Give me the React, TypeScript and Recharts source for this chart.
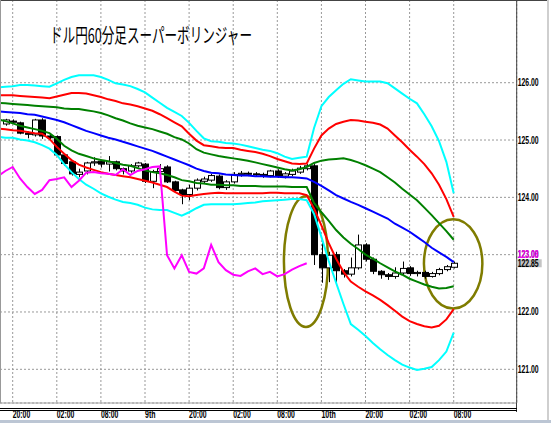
import {
  Bar,
  CartesianGrid,
  ComposedChart,
  Line,
  ReferenceArea,
  ReferenceDot,
  XAxis,
  YAxis,
} from "recharts"

// USD/JPY hourly candles with super-bollinger bands (±1σ, ±2σ, ±3σ around
// the mean) and the lagging close line. Band/lagging arrays start one bar
// before the first candle (bar -1) so the lines run into the left edge.

const TITLE = "ドル円60分足スーパーボリンジャー"

const X_TICKS = [1, 7, 13, 19, 25, 31, 37, 43, 49, 55, 61]
const X_LABELS = ["20:00", "02:00", "08:00", "9th", "20:00", "02:00", "08:00", "10th", "20:00", "02:00", "08:00"]
const Y_TICKS = [121, 122, 123, 124, 125, 126]

const LAST_CLOSE = 122.85
const LAGGING_TAG = 123.08
// the lagging tag is printed over this scale label
const LAGGING_TAG_ROW = 123

// bars 0..61
const opens = [
  125.28, 125.33, 125.3, 125.12, 125.09, 125.35, 125.07, 125.06, 124.74, 124.62,
  124.4, 124.46, 124.6, 124.63, 124.58, 124.62, 124.5, 124.46, 124.55, 124.58,
  124.28, 124.45, 124.53, 124.27, 124.13, 124.05, 124.16, 124.28, 124.3, 124.37,
  124.17, 124.27, 124.4, 124.42, 124.41, 124.4, 124.38, 124.46, 124.37, 124.4,
  124.44, 124.5, 124.55, 123.0, 122.77, 123.0, 122.72, 122.66, 122.77, 123.17,
  122.92, 122.71, 122.65, 122.62, 122.68, 122.77, 122.67, 122.69, 122.62, 122.67,
  122.74, 122.78,
]
const highs = [
  125.37, 125.36, 125.32, 125.15, 125.37, 125.38, 125.1, 125.08, 124.76, 124.65,
  124.5, 124.62, 124.7, 124.66, 124.72, 124.64, 124.52, 124.58, 124.62, 124.6,
  124.48, 124.58, 124.56, 124.29, 124.15, 124.22, 124.33, 124.36, 124.41, 124.4,
  124.3, 124.44, 124.46, 124.45, 124.44, 124.43, 124.48, 124.49, 124.44, 124.5,
  124.55, 124.58, 124.58, 123.2, 123.05, 123.05, 122.75, 122.95, 123.35, 123.2,
  122.95, 122.73, 122.68, 122.78, 122.88, 122.8, 122.72, 122.72, 122.7, 122.77,
  122.82, 122.88,
]
const lows = [
  125.25, 125.28, 125.1, 125.03, 125.06, 125.02, 125.0, 124.72, 124.55, 124.38,
  124.35, 124.4, 124.55, 124.52, 124.45, 124.47, 124.4, 124.43, 124.52, 124.25,
  124.16, 124.42, 124.25, 124.1, 123.88, 123.95, 124.12, 124.25, 124.27, 124.14,
  124.13, 124.24, 124.36, 124.37, 124.36, 124.34, 124.35, 124.34, 124.33, 124.37,
  124.41, 124.47, 122.82, 122.51, 122.52, 122.5, 122.6, 122.62, 122.74, 122.88,
  122.66, 122.58, 122.56, 122.58, 122.64, 122.63, 122.62, 122.58, 122.6, 122.64,
  122.71, 122.76,
]
const closes = [
  125.35, 125.31, 125.12, 125.1, 125.35, 125.07, 125.04, 124.74, 124.59, 124.41,
  124.44, 124.6, 124.62, 124.58, 124.62, 124.5, 124.46, 124.55, 124.6, 124.28,
  124.45, 124.5, 124.27, 124.12, 124.05, 124.16, 124.3, 124.32, 124.38, 124.17,
  124.27, 124.4, 124.42, 124.41, 124.4, 124.38, 124.46, 124.37, 124.41, 124.46,
  124.51, 124.55, 123.0, 122.77, 122.99, 122.72, 122.66, 122.77, 123.17, 122.92,
  122.71, 122.65, 122.62, 122.68, 122.76, 122.67, 122.69, 122.62, 122.67, 122.74,
  122.79, 122.85,
]

// bars -1..61
const upper3 = [
  125.92,
  125.93, 125.94, 125.96, 125.96, 125.95, 125.94, 125.93, 125.99, 126.05, 126.1,
  126.13, 126.13, 126.13, 126.1, 126.05, 125.99, 125.97, 125.94, 125.89, 125.83,
  125.74, 125.65, 125.56, 125.49, 125.42, 125.3, 125.16, 125.03, 124.98, 124.97,
  124.95, 124.94, 124.92, 124.89, 124.86, 124.83, 124.81, 124.77, 124.71, 124.67,
  124.69, 124.71, 125.21, 125.59, 125.75, 125.87, 125.98, 126.06, 126.04, 126.02,
  126.02, 126.02, 125.99, 125.9, 125.81, 125.72, 125.64, 125.45, 125.24, 124.98,
  124.62, 124.07,
]
const upper2 = [
  125.78,
  125.78, 125.78, 125.77, 125.76, 125.75, 125.74, 125.73, 125.76, 125.79, 125.82,
  125.82, 125.81, 125.78, 125.75, 125.71, 125.68, 125.64, 125.62, 125.59, 125.55,
  125.51, 125.45, 125.38, 125.31, 125.24, 125.11, 124.99, 124.91, 124.89, 124.87,
  124.86, 124.86, 124.83, 124.81, 124.79, 124.76, 124.72, 124.67, 124.63, 124.59,
  124.58, 124.59, 124.85, 125.08, 125.2, 125.28, 125.32, 125.35, 125.34, 125.32,
  125.3, 125.27, 125.2, 125.08, 124.96, 124.83, 124.71, 124.58, 124.42, 124.22,
  123.97, 123.66,
]
const upper1 = [
  125.65,
  125.64, 125.63, 125.62, 125.61, 125.6, 125.59, 125.58, 125.57, 125.55, 125.54,
  125.54, 125.52, 125.5, 125.47, 125.43, 125.38, 125.34, 125.29, 125.25, 125.22,
  125.19, 125.15, 125.11, 125.05, 125.01, 124.94, 124.84, 124.78, 124.75, 124.72,
  124.7, 124.68, 124.66, 124.64, 124.61, 124.58, 124.55, 124.52, 124.49, 124.47,
  124.49, 124.53, 124.6, 124.64, 124.66, 124.67, 124.68, 124.65, 124.61, 124.56,
  124.5, 124.44, 124.35, 124.26, 124.15, 124.05, 123.95, 123.82, 123.69, 123.55,
  123.41, 123.26,
]
const middle = [
  125.5,
  125.49, 125.48, 125.47, 125.45, 125.44, 125.41, 125.38, 125.35, 125.31, 125.26,
  125.21, 125.16, 125.12, 125.08, 125.04, 125.01, 124.97, 124.93, 124.89, 124.85,
  124.81, 124.76, 124.71, 124.66, 124.61, 124.56, 124.5, 124.46, 124.43, 124.42,
  124.4, 124.39, 124.38, 124.38, 124.37, 124.37, 124.36, 124.36, 124.35, 124.35,
  124.34, 124.33, 124.27, 124.2, 124.12, 124.04, 123.98, 123.92, 123.87, 123.81,
  123.75, 123.69, 123.63, 123.54, 123.47, 123.4, 123.31, 123.22, 123.12, 123.04,
  122.96, 122.87,
]
const lower1 = [
  125.36,
  125.33, 125.29, 125.25, 125.22, 125.19, 125.16, 125.12, 125.02, 124.9, 124.82,
  124.76, 124.72, 124.68, 124.65, 124.63, 124.6, 124.57, 124.55, 124.51, 124.47,
  124.44, 124.42, 124.39, 124.35, 124.3, 124.28, 124.25, 124.24, 124.22, 124.22,
  124.21, 124.21, 124.2, 124.2, 124.2, 124.19, 124.19, 124.19, 124.19, 124.18,
  124.18, 124.18, 123.9, 123.74, 123.59, 123.43, 123.3, 123.19, 123.1, 123.0,
  122.93, 122.85, 122.78, 122.71, 122.65, 122.58, 122.53, 122.48, 122.44, 122.41,
  122.42, 122.45,
]
const lower2 = [
  125.2,
  125.19, 125.17, 125.16, 125.14, 125.12, 125.11, 125.02, 124.88, 124.76, 124.65,
  124.57, 124.52, 124.48, 124.44, 124.41, 124.39, 124.37, 124.35, 124.32, 124.29,
  124.26, 124.22, 124.18, 124.1, 124.03, 124.02, 124.04, 124.06, 124.07, 124.08,
  124.07, 124.07, 124.07, 124.07, 124.07, 124.07, 124.08, 124.08, 124.07, 124.07,
  124.07, 124.04, 123.8, 123.51, 123.2, 122.93, 122.7, 122.53, 122.44, 122.36,
  122.29, 122.21, 122.12, 122.02, 121.92, 121.84, 121.79, 121.75, 121.73, 121.76,
  121.87, 122.05,
]
const lower3 = [
  125.06,
  125.04, 125.04, 125.01, 124.99, 124.96, 124.91, 124.85, 124.74, 124.58, 124.44,
  124.32, 124.22, 124.15, 124.07, 124.01, 123.96, 123.92, 123.9, 123.87, 123.82,
  123.79, 123.78, 123.78, 123.73, 123.68, 123.74, 123.81, 123.87, 123.88, 123.88,
  123.88, 123.88, 123.89, 123.9, 123.91, 123.93, 123.94, 123.95, 123.96, 123.97,
  123.97, 123.95, 123.71, 123.31, 122.89, 122.51, 122.14, 121.79, 121.69, 121.58,
  121.46, 121.35, 121.25, 121.16, 121.08, 121.03, 120.99, 121.01, 121.04, 121.16,
  121.31, 121.64,
]
// lagging close, bars -1..41
const lagging = [
  124.37,
  124.46, 124.53, 124.33, 124.18, 124.06, 124.13, 124.3, 124.32, 124.35, 124.18,
  124.29, 124.43, 124.44, 124.42, 124.41, 124.39, 124.49, 124.39, 124.46, 124.49,
  124.53, 124.54, 122.99, 122.76, 122.99, 122.7, 122.67, 122.76, 123.17, 122.87,
  122.73, 122.65, 122.63, 122.71, 122.76, 122.66, 122.7, 122.62, 122.66, 122.74,
  122.8, 122.85,
]

// marked zones: [bar from, bar to, price low, price high]
const ellipses: [number, number, number, number][] = [
  [37.9, 43.9, 121.74, 124.02],
  [56.95, 64.9, 122.06, 123.62],
]

const rows = upper3.map((_, k) => {
  const i = k - 1
  const row: Record<string, unknown> = {
    i,
    u3: upper3[k],
    u2: upper2[k],
    u1: upper1[k],
    mid: middle[k],
    l1: lower1[k],
    l2: lower2[k],
    l3: lower3[k],
    lag: lagging[k],
  }
  if (i >= 0) {
    row.open = opens[i]
    row.high = highs[i]
    row.low = lows[i]
    row.close = closes[i]
    row.range = [lows[i], highs[i]]
  }
  return row
})

const FONT = "'Liberation Sans', Arial, sans-serif"

function Candle(props: any) {
  const { x, y, width, height, payload } = props
  if (!payload || payload.open == null) return null
  const { open, high, low, close } = payload
  const top = Math.min(y, y + height)
  const span = Math.abs(height)
  const k = high > low ? span / (high - low) : 0
  const py = (v: number) => top + (high - v) * k
  const cx = Math.round(x + width / 2) + 0.5
  const bodyTop = py(Math.max(open, close))
  const bodyH = Math.max(1, py(Math.min(open, close)) - bodyTop)
  return (
    <g>
      <line x1={cx} x2={cx} y1={top} y2={top + span} stroke="#000" strokeWidth={1} />
      <rect
        x={cx - 3}
        y={bodyTop}
        width={6}
        height={bodyH}
        fill={close >= open ? "#fff" : "#000"}
        stroke="#000"
        strokeWidth={1}
      />
    </g>
  )
}

function Oval(props: any) {
  const { x, y, width, height } = props
  return (
    <ellipse
      cx={x + width / 2}
      cy={y + height / 2}
      rx={Math.abs(width) / 2}
      ry={Math.abs(height) / 2}
      fill="none"
      stroke="#7f7c00"
      strokeWidth={2.5}
    />
  )
}

function TimeTick(props: any) {
  const { x, y, payload } = props
  const label = X_LABELS[X_TICKS.indexOf(payload.value)] ?? ""
  const len = label.length === 5 ? 17.5 : label.length === 4 ? 14.5 : 10.5
  return (
    <text
      x={x}
      y={y + 15}
      fontFamily={FONT}
      fontSize={10}
      fontWeight={700}
      fill="#000"
      textLength={len}
      lengthAdjust="spacingAndGlyphs"
    >
      {label}
    </text>
  )
}

function PriceText({ x, y, value, color }: { x: number; y: number; value: number; color: string }) {
  return (
    <text
      x={x}
      y={y + 3.5}
      fontFamily={FONT}
      fontSize={10}
      fontWeight={700}
      fill={color}
      textLength={21}
      lengthAdjust="spacingAndGlyphs"
    >
      {value.toFixed(2)}
    </text>
  )
}

function PriceTick(props: any) {
  const { x, y, payload } = props
  return (
    <g>
      <PriceText x={x} y={y} value={payload.value} color="#000" />
      {payload.value === LAGGING_TAG_ROW ? (
        <PriceText x={x} y={y - 0.5} value={LAGGING_TAG} color="#ff00ff" />
      ) : null}
    </g>
  )
}

function LastTag(props: any) {
  const { cx, cy } = props
  return (
    <g>
      <rect x={cx} y={cy - 4} width={25} height={8} fill="#c4c4c4" />
      <PriceText x={cx + 1} y={cy} value={LAST_CLOSE} color="#000" />
    </g>
  )
}

const bands = [
  { key: "u3", color: "#00ffff" },
  { key: "u2", color: "#ff0000" },
  { key: "u1", color: "#008000" },
  { key: "mid", color: "#0000ff" },
  { key: "l1", color: "#008000" },
  { key: "l2", color: "#ff0000" },
  { key: "l3", color: "#00ffff" },
]

const line = (top: number, left: number, width: number, height: number, color: string) => (
  <div style={{ position: "absolute", top, left, width, height, background: color }} />
)

export default function App() {
  return (
    <div style={{ position: "absolute", left: 0, top: 0, width: 551, height: 423, background: "#fff" }}>
      <ComposedChart
        width={551}
        height={423}
        data={rows}
        margin={{ top: 0, right: 0, bottom: 0, left: 0 }}
      >
        <CartesianGrid stroke="#999" strokeDasharray="2 2" />
        <XAxis
          dataKey="i"
          type="number"
          domain={[-0.728, 69.57]}
          allowDataOverflow
          ticks={X_TICKS}
          interval={0}
          height={20}
          tickSize={0}
          tickMargin={0}
          tick={<TimeTick />}
          axisLine={{ stroke: "#a0a0a0" }}
        />
        <YAxis
          orientation="right"
          type="number"
          domain={[120.412, 127.443]}
          allowDataOverflow
          ticks={Y_TICKS}
          interval={0}
          width={34.3}
          tickSize={0}
          tickMargin={1}
          tick={<PriceTick />}
          axisLine={{ stroke: "#404040" }}
        />
        <Bar dataKey="range" barSize={6} shape={<Candle />} isAnimationActive={false} />
        {bands.map((b) => (
          <Line
            key={b.key}
            dataKey={b.key}
            type="linear"
            stroke={b.color}
            strokeWidth={2}
            dot={false}
            activeDot={false}
            isAnimationActive={false}
          />
        ))}
        <Line
          dataKey="lag"
          type="linear"
          stroke="#ff00ff"
          strokeWidth={2}
          dot={false}
          activeDot={false}
          isAnimationActive={false}
        />
        {ellipses.map(([x1, x2, y1, y2], n) => (
          <ReferenceArea key={n} x1={x1} x2={x2} y1={y1} y2={y2} shape={<Oval />} />
        ))}
        <ReferenceDot x={69.57} y={LAST_CLOSE} shape={<LastTag />} />
      </ComposedChart>

      {line(0, 0, 548, 1, "#444")}
      {line(0, 0, 1, 403, "#999")}
      {line(403, 516, 1, 9, "#404040")}
      {line(408, 0, 517, 1, "#000")}
      {line(410, 0, 517, 1, "#000")}
      {line(0, 547, 2, 421, "#cfcfcf")}
      {line(420, 0, 551, 3, "#bcc6d4")}

      <svg width={551} height={60} style={{ position: "absolute", left: 0, top: 0 }}>
        <text
          x={50}
          y={43}
          fontFamily="'Noto Sans CJK JP', sans-serif"
          fontSize={20}
          fill="#000"
          textLength={202}
          lengthAdjust="spacingAndGlyphs"
        >
          {TITLE}
        </text>
      </svg>
    </div>
  )
}
